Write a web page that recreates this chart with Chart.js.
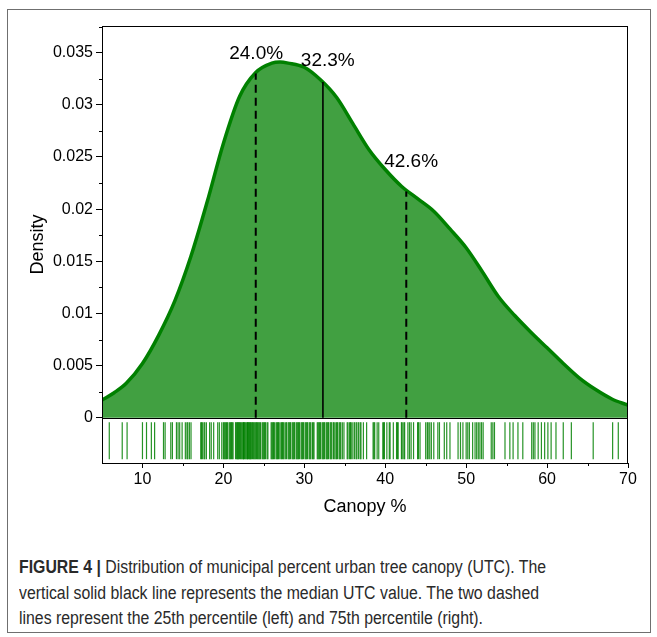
<!DOCTYPE html>
<html lang="en">
<head>
  <meta charset="UTF-8">
  <title>Figure 4 - Urban tree canopy distribution</title>
  <script src="https://cdn.jsdelivr.net/npm/chart.js"></script>
  <style>
    body { margin: 0; background: #fff; width: 657px; height: 637px; position: relative; overflow: hidden; }
    #frame { position: absolute; left: 7px; top: 9px; width: 642px; height: 622px; border: 1px solid #6f6f6f; }
    #chartCanvas { position: absolute; left: 0; top: 0; }
    #caption {
      position: absolute; left: 19px; top: 555px;
      font-family: "Liberation Sans", Arial, sans-serif;
      font-size: 18px; line-height: 25.5px; color: #2a2a2a;
      white-space: nowrap;
      transform: scaleX(0.88); transform-origin: left top;
    }
    #caption b { font-weight: bold; }
  </style>
</head>
<body>
  <div id="frame"></div>
  <canvas id="chartCanvas" width="657" height="530"></canvas>
  <div id="caption"><b>FIGURE 4 |</b> Distribution of municipal percent urban tree canopy (UTC). The<br>vertical solid black line represents the median UTC value. The two dashed<br>lines represent the 25th percentile (left) and 75th percentile (right).</div>

  <script>
    // density curve
    const canopyX = [5, 6.5, 8, 10, 12, 14, 16, 18, 20, 22, 24, 26, 27, 28, 30, 32, 34, 36, 38, 40, 42, 44, 46, 48, 50, 52, 54, 56, 58, 60, 62, 64, 66, 68, 70];
    const density = [0.0017, 0.0024, 0.0033, 0.0052, 0.0079, 0.0112, 0.0155, 0.0207, 0.0263, 0.0308, 0.0331, 0.0340, 0.0341, 0.0340, 0.0336, 0.0324, 0.0307, 0.0282, 0.0257, 0.0238, 0.0222, 0.0210, 0.0198, 0.0181, 0.0163, 0.0140, 0.0116, 0.0098, 0.0082, 0.0067, 0.0052, 0.0038, 0.0027, 0.0018, 0.0012];

    // rug: one tick per municipality
    const rugValues = [
      5.9, 7.5, 8.1, 10.0, 10.5, 11.1, 11.5, 12.6, 12.8, 13.5, 13.7, 14.2, 14.4, 14.6, 14.9, 15.3, 15.5, 15.6, 15.8, 16.0,
      17.2, 17.3, 17.4, 17.6, 17.7, 17.9, 18.3, 18.5, 18.8, 19.3, 19.5, 19.8,
      20.0, 20.1, 20.2, 20.3, 20.4, 20.5, 20.7, 20.8, 20.9, 21.0, 21.1, 21.2, 21.5, 21.6, 21.7, 21.8, 21.8, 21.9, 22.0, 22.1,
      22.2, 22.3, 22.4, 22.5, 22.5, 22.6, 22.7, 22.8, 22.9, 23.0, 23.0, 23.1, 23.2, 23.3, 23.3, 23.4, 23.5, 23.6, 23.7,
      23.8, 23.9, 24.0, 24.1, 24.2, 24.3, 24.4, 24.5, 24.6, 24.8, 24.9, 25.0, 25.1, 25.2, 25.4, 25.5, 25.9, 26.0, 26.1,
      26.2, 26.3, 26.5, 26.6, 26.7, 26.8, 26.9, 27.1, 27.2, 27.3, 27.4, 27.5, 27.7, 27.8, 28.0, 28.1, 28.2, 28.3, 28.5,
      28.6, 28.7, 28.8, 29.0, 29.1, 29.2, 29.3, 29.4, 29.6, 29.7, 29.8, 29.9, 30.1, 30.2, 30.3, 30.4, 30.6, 30.7, 30.8,
      31.0, 31.1, 31.2, 31.6, 31.7, 31.8, 31.9, 32.0, 32.2, 32.3, 32.4, 32.5, 32.7, 32.8, 32.9, 33.0, 33.2, 33.3, 33.4,
      33.6, 33.7, 33.9, 34.0, 34.1, 34.3, 34.4, 34.5, 34.7, 34.9, 35.3, 35.4, 35.6, 35.7, 35.8, 36.0, 36.2, 36.4, 36.5,
      36.7, 36.9, 37.0, 37.3, 37.7,
      38.5, 38.6, 38.7, 39.0, 39.2, 39.7, 39.8, 39.9, 40.2, 40.5, 40.6, 41.0, 41.4, 41.5, 41.6, 42.0, 42.1, 42.3, 42.4,
      42.8, 43.0, 43.2, 43.5, 44.0, 44.1, 44.3, 45.0, 45.2, 45.3, 45.5, 45.7, 46.0, 46.5, 46.7, 47.3, 47.6, 48.0,
      49.0, 49.3, 49.6, 50.0, 50.2, 50.4, 50.8, 51.1, 51.3, 51.5, 51.7, 51.9, 52.1, 53.1, 53.3, 53.5,
      54.8, 55.4, 55.8, 56.4, 57.0, 58.1, 58.3, 58.5, 58.9, 59.3, 59.7, 60.1, 60.5, 61.1, 62.0, 63.0, 65.7, 68.1, 68.8
    ];
    const rugLevel = -0.0022;

    // 25th percentile, median, 75th percentile and where they meet the curve
    const quantileX = [24.0, 32.3, 42.6];
    const quantileTop = [0.0330, 0.0322, 0.0217];
    const quantileText = ["24.0%", "32.3%", "42.6%"];
    const labelX = [24.05, 32.9, 43.2];
    const labelY = [0.0344, 0.0337, 0.0240];

    const yTickStep = 0.005;
    const xTickStep = 10;

    Chart.defaults.font.family = '"Liberation Sans", Arial, sans-serif';
    Chart.defaults.color = "#000";

    // box, zero line, minor ticks and percentile labels
    const extrasPlugin = {
      id: "extras",
      afterDatasetsDraw(chart) {
        const { ctx, chartArea, scales } = chart;
        const xs = scales.x, ys = scales.y;
        ctx.save();
        ctx.strokeStyle = "#000";
        ctx.lineWidth = 1;
        const y0 = Math.round(ys.getPixelForValue(0)) + 0.5;
        ctx.beginPath();
        ctx.moveTo(chartArea.left, y0);
        ctx.lineTo(chartArea.right, y0);
        ctx.stroke();
        ctx.strokeRect(chartArea.left + 0.5, chartArea.top + 0.5, chartArea.right - chartArea.left - 1, chartArea.bottom - chartArea.top);

        // minor ticks halfway between major ones
        ctx.beginPath();
        ys.ticks.forEach(t => {
          const v = t.value + yTickStep / 2;
          if (t.value >= 0 && v < ys.max) {
            const p = Math.round(ys.getPixelForValue(v)) + 0.5;
            ctx.moveTo(chartArea.left - 3, p);
            ctx.lineTo(chartArea.left, p);
          }
        });
        xs.ticks.forEach(t => {
          const v = t.value - xTickStep / 2;
          if (v > xs.min) {
            const p = Math.round(xs.getPixelForValue(v)) + 0.5;
            ctx.moveTo(p, chartArea.bottom);
            ctx.lineTo(p, chartArea.bottom + 3);
          }
        });
        ctx.stroke();

        ctx.font = '19px "Liberation Sans", Arial, sans-serif';
        ctx.fillStyle = "#000";
        ctx.textAlign = "center";
        ctx.textBaseline = "alphabetic";
        quantileText.forEach((txt, i) => {
          ctx.fillText(txt, xs.getPixelForValue(labelX[i]), ys.getPixelForValue(labelY[i]));
        });
        ctx.restore();
      }
    };

    const quantileSets = quantileX.map((q, i) => ({
      type: "line",
      data: [{ x: q, y: 0 }, { x: q, y: quantileTop[i] }],
      borderColor: "#000",
      borderWidth: i === 1 ? 1.6 : 2,
      borderDash: i === 1 ? [] : [8, 5],
      pointRadius: 0,
      fill: false,
      order: 0
    }));

    new Chart(document.getElementById("chartCanvas"), {
      type: "line",
      data: {
        datasets: [
          ...quantileSets,
          {
            type: "scatter",
            data: rugValues.map(v => ({ x: v, y: rugLevel })),
            pointStyle: "line",
            rotation: 90,
            radius: 18.5,
            borderWidth: 1.2,
            borderColor: "rgba(0, 128, 0, 0.85)",
            showLine: false,
            order: 1
          },
          {
            data: canopyX.map((x, i) => ({ x: x, y: density[i] })),
            borderColor: "#008000",
            borderWidth: 3.5,
            backgroundColor: "#41a041",
            fill: "origin",
            cubicInterpolationMode: "monotone",
            pointRadius: 0,
            order: 2
          }
        ]
      },
      options: {
        responsive: false,
        animation: false,
        layout: { padding: { left: 0, right: 29, top: 26, bottom: 0 } },
        plugins: { legend: { display: false }, tooltip: { enabled: false } },
        scales: {
          x: {
            type: "linear",
            min: 5,
            max: 70,
            afterFit(scale) { scale.height = 67; },
            border: { display: false },
            grid: { drawOnChartArea: false, color: "#000", tickLength: 5 },
            ticks: { stepSize: xTickStep, includeBounds: false, padding: 2, font: { size: 16 }, maxRotation: 0 },
            title: { display: true, text: "Canopy %", font: { size: 18 }, padding: { bottom: 12 } }
          },
          y: {
            min: -0.00434,
            max: 0.03756,
            afterFit(scale) { scale.width = 102; },
            border: { display: false },
            grid: { drawOnChartArea: false, color: "#000", tickLength: 6 },
            ticks: {
              stepSize: yTickStep,
              includeBounds: false,
              padding: 3,
              font: { size: 16 },
              callback: v => (v < 0 ? "" : String(+v.toFixed(4)))
            },
            title: { display: true, text: "Density", font: { size: 18 }, padding: { top: 27 } }
          }
        }
      },
      plugins: [extrasPlugin]
    });
  </script>
</body>
</html>
